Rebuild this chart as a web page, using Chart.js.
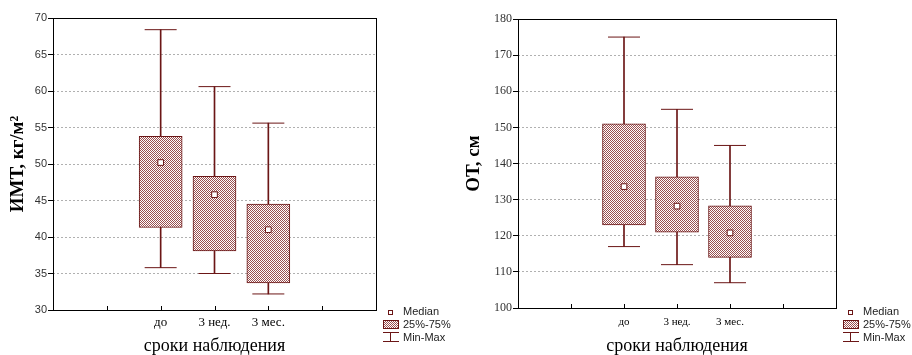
<!DOCTYPE html>
<html>
<head>
<meta charset="utf-8">
<script src="https://cdn.jsdelivr.net/npm/chart.js@4"></script>
<style>
  html, body { margin: 0; padding: 0; background: #fff; }
  .row { display: flex; width: 912px; height: 355px; }
  .row canvas { display: block; }
</style>
</head>
<body>
<div class="row">
  <canvas id="imt" width="456" height="355"></canvas>
  <canvas id="ot" width="456" height="355"></canvas>
</div>
<script>
// time points
const categories = ['до', '3 нед.', '3 мес.'];

// ИМТ, кг/м²
const imtMin = [35.8, 35.0, 32.2];
const imtQ1 = [41.3, 38.1, 33.7];
const imtMedian = [50.2, 45.8, 41.0];
const imtQ3 = [53.8, 48.3, 44.5];
const imtMax = [68.4, 60.6, 55.6];

// ОТ, см
const otMin = [117, 112, 107];
const otQ1 = [123, 121, 114];
const otMedian = [133.6, 128.2, 120.8];
const otQ3 = [151, 136.3, 128.3];
const otMax = [175, 155, 145];

// axis ranges
const imtAxis = { min: 30, max: 70, step: 5 };
const otAxis = { min: 100, max: 180, step: 10 };

const legendLabels = ['Median', '25%-75%', 'Min-Max'];
const xTitle = 'сроки наблюдения';

const MAROON = '#6b1616';

// two empty slots each side of the categories
const labels = ['', '', ...categories, '', ''];
const pad = arr => [null, null, ...arr, null, null];

function hatch() {
  const c = document.createElement('canvas');
  c.width = 2; c.height = 2;
  const g = c.getContext('2d');
  g.fillStyle = '#ffffff';
  g.fillRect(0, 0, 2, 2);
  g.fillStyle = '#9a5050';
  g.fillRect(0, 0, 1, 1);
  g.fillRect(1, 1, 1, 1);
  return g.createPattern(c, 'repeat');
}
const pattern = hatch();

// frame, inner x ticks and the legend on the right
const decorations = {
  id: 'decorations',
  afterDatasetsDraw(chart) {
    const { ctx, chartArea: a, scales: { x } } = chart;
    ctx.save();
    ctx.strokeStyle = '#000';
    ctx.lineWidth = 1;
    ctx.strokeRect(Math.round(a.left) + 0.5, Math.round(a.top) + 0.5,
      Math.round(a.right - a.left), Math.round(a.bottom - a.top));
    ctx.beginPath();
    for (let i = 1; i < labels.length - 1; i++) {
      const px = Math.round(x.getPixelForTick(i)) + 0.5;
      ctx.moveTo(px, a.bottom);
      ctx.lineTo(px, a.bottom - 4);
    }
    ctx.stroke();

    // legend
    const lx = Math.round(a.right) + 7;
    ctx.strokeStyle = MAROON;
    ctx.fillStyle = '#fff';
    ctx.fillRect(lx + 5.5, 310.5, 4, 4);
    ctx.strokeRect(lx + 5.5, 310.5, 4, 4);
    ctx.fillStyle = pattern;
    ctx.fillRect(lx + 0.5, 320.5, 15, 8);
    ctx.strokeRect(lx + 0.5, 320.5, 15, 8);
    ctx.beginPath();
    ctx.moveTo(lx, 332.5); ctx.lineTo(lx + 16, 332.5);
    ctx.moveTo(lx + 7.5, 332.5); ctx.lineTo(lx + 7.5, 341.5);
    ctx.moveTo(lx, 341.5); ctx.lineTo(lx + 16, 341.5);
    ctx.stroke();
    ctx.fillStyle = '#222';
    ctx.font = '11px "Liberation Sans", Arial, sans-serif';
    ctx.textBaseline = 'middle';
    ctx.fillText(legendLabels[0], lx + 20, 312);
    ctx.fillText(legendLabels[1], lx + 20, 324.5);
    ctx.fillText(legendLabels[2], lx + 20, 338);
    ctx.restore();
  }
};

function boxChart(id, s) {
  return new Chart(document.getElementById(id), {
    data: {
      labels: labels,
      datasets: [
        {
          type: 'bar',
          data: pad(s.min.map((v, i) => [v, s.max[i]])),
          backgroundColor: MAROON,
          barThickness: 1,
          grouped: false,
          order: 4
        },
        {
          type: 'bar',
          data: pad(s.q1.map((v, i) => [v, s.q3[i]])),
          backgroundColor: pattern,
          borderColor: MAROON,
          borderWidth: 1,
          borderSkipped: false,
          barThickness: 43,
          grouped: false,
          order: 3
        },
        {
          type: 'line',
          data: pad(s.max),
          showLine: false,
          pointStyle: 'line',
          pointRadius: 16,
          pointBorderColor: MAROON,
          pointBorderWidth: 1,
          order: 2
        },
        {
          type: 'line',
          data: pad(s.min),
          showLine: false,
          pointStyle: 'line',
          pointRadius: 16,
          pointBorderColor: MAROON,
          pointBorderWidth: 1,
          order: 2
        },
        {
          type: 'line',
          data: pad(s.median),
          showLine: false,
          pointStyle: 'rect',
          pointRadius: 4,
          pointBackgroundColor: '#fff',
          pointBorderColor: MAROON,
          pointBorderWidth: 1,
          order: 1
        }
      ]
    },
    options: {
      responsive: false,
      animation: false,
      events: [],
      layout: { padding: { top: s.top, right: s.right, bottom: 0, left: 0 } },
      plugins: { legend: { display: false }, tooltip: { enabled: false } },
      scales: {
        x: {
          type: 'category',
          offset: false,
          grid: { display: false, drawTicks: false, tickLength: 0 },
          border: { display: false },
          ticks: {
            autoSkip: false,
            maxRotation: 0,
            padding: s.xPad,
            color: '#000',
            font: { family: '"Liberation Serif", "Times New Roman", serif', size: s.xFont }
          },
          title: {
            display: true,
            text: xTitle,
            color: '#000',
            padding: 0,
            font: { family: '"Liberation Serif", "Times New Roman", serif', size: 18, lineHeight: 1 }
          },
          afterFit: sc => { sc.height = s.xHeight; }
        },
        y: {
          min: s.axis.min,
          max: s.axis.max,
          grid: {
            color: '#b0b0b0',
            tickColor: '#000',
            tickLength: 5,
            lineWidth: 1
          },
          border: { display: false, dash: [2, 2] },
          ticks: {
            stepSize: s.axis.step,
            padding: 1,
            color: '#333',
            font: s.yTickFont
          },
          title: {
            display: true,
            text: s.yTitle,
            color: '#000',
            padding: { top: 7, bottom: 0 },
            font: { family: '"Liberation Serif", "Times New Roman", serif', size: 19, weight: 'bold' }
          },
          afterFit: sc => { sc.width = s.yWidth; }
        }
      }
    },
    plugins: [decorations]
  });
}

boxChart('imt', {
  min: imtMin, q1: imtQ1, median: imtMedian, q3: imtQ3, max: imtMax,
  axis: imtAxis,
  yTitle: 'ИМТ, кг/м²',
  top: 18, right: 80, yWidth: 53, xHeight: 45, xFont: 13, xPad: 5,
  yTickFont: { family: '"Liberation Sans", Arial, sans-serif', size: 11 }
});

boxChart('ot', {
  min: otMin, q1: otQ1, median: otMedian, q3: otQ3, max: otMax,
  axis: otAxis,
  yTitle: 'ОТ, см',
  top: 19, right: 76, yWidth: 62, xHeight: 47, xFont: 11, xPad: 8,
  yTickFont: { family: '"Liberation Serif", "Times New Roman", serif', size: 12 }
});
</script>
</body>
</html>
